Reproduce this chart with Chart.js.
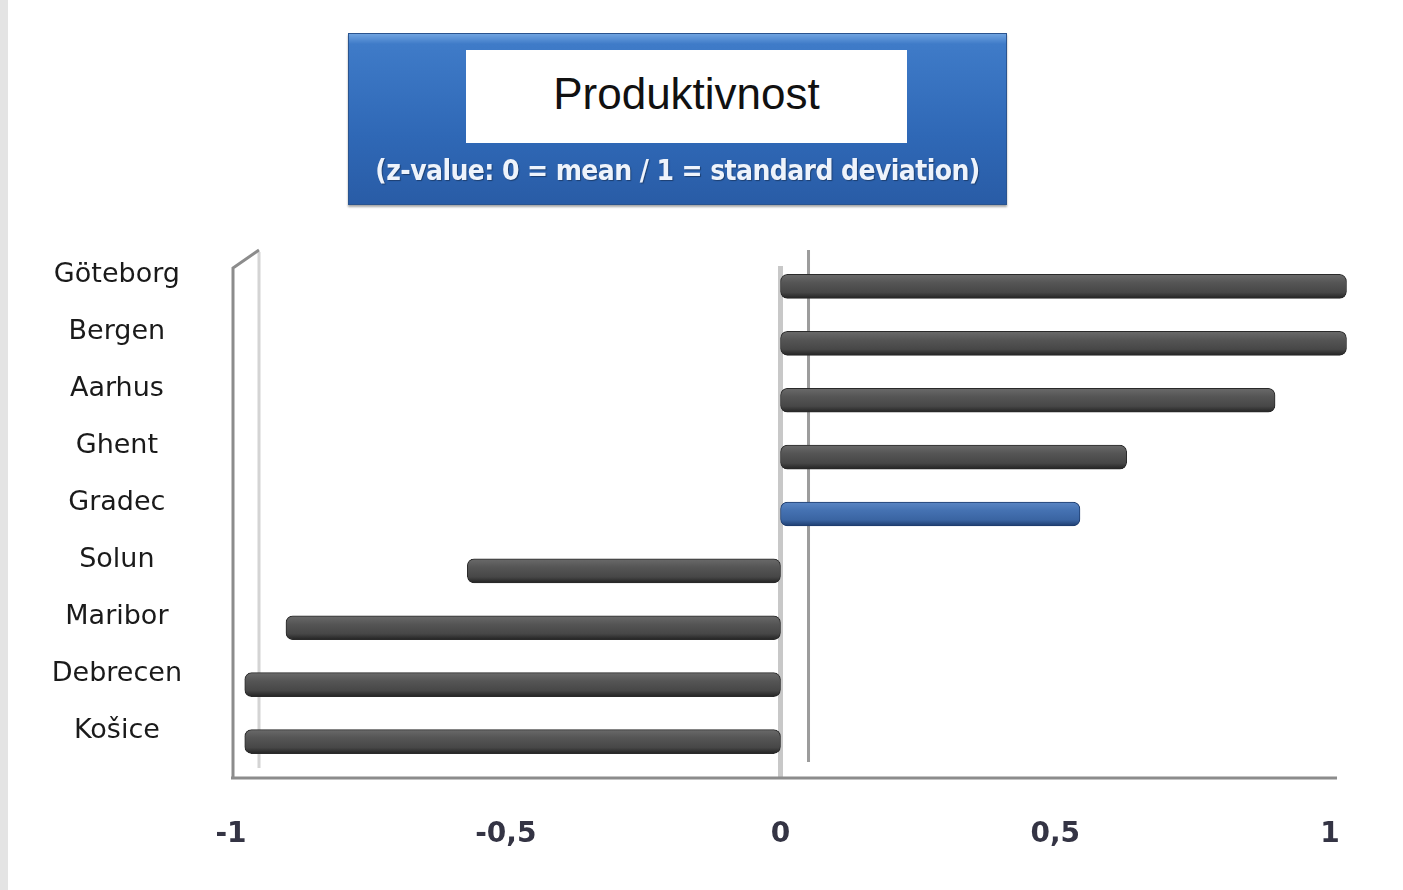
<!DOCTYPE html>
<html>
<head>
<meta charset="utf-8">
<script src="https://cdn.jsdelivr.net/npm/chart.js@4.4.1/dist/chart.umd.min.js"></script>
<style>
    html, body { margin: 0; padding: 0; background: #fff; }
    #wrap { position: relative; width: 1403px; height: 890px; overflow: hidden; background: #fff; }
    #edge { position: absolute; left: 0; top: 0; width: 8px; height: 890px; background: #e4e4e4; }
    #chart { position: absolute; left: 0; top: 0; }
    #titleBox {
        position: absolute; left: 348px; top: 33px; width: 657px; height: 170px;
        background: linear-gradient(#6fa3e0 0px, #3f7bc8 10px, #2f68b6 60%, #295ca6 100%);
        border: 1px solid #2a548f;
        box-shadow: 0 2px 2px rgba(0,0,0,0.35);
    }
    #titleInner {
        position: absolute; left: 117px; top: 16px; width: 441px; height: 93px;
        background: #fff;
        font: 44px "Liberation Sans", Arial, sans-serif; color: #111;
        display: flex; align-items: center; justify-content: center;
        padding-bottom: 6px; box-sizing: border-box;
    }
    #subTitle {
        position: absolute; left: 0; top: 120px; width: 657px; text-align: center;
        font: bold 28px "DejaVu Sans Condensed", "DejaVu Sans", sans-serif;
        color: #eef3fb; text-shadow: 1px 1px 1px #1d3f70;
        letter-spacing: -0.6px;
    }
</style>
</head>
<body>
<div id="wrap">
    <div id="edge"></div>
    <canvas id="chart" width="1403" height="890"></canvas>
    <div id="titleBox">
        <div id="titleInner">Produktivnost</div>
        <div id="subTitle">(z-value: 0 = mean / 1 = standard deviation)</div>
    </div>
</div>
<script>
// Data
const CITIES = ['Göteborg', 'Bergen', 'Aarhus', 'Ghent', 'Gradec', 'Solun', 'Maribor', 'Debrecen', 'Košice'];
const Z_VALUES = [1.03, 1.03, 0.90, 0.63, 0.545, -0.57, -0.90, -0.975, -0.975];
const X_TICKS = [-1, -0.5, 0, 0.5, 1];
const HIGHLIGHT = 'Gradec';

const GREY_STOPS = ['#6a6a6a', '#555555', '#474747', '#232323'];
const BLUE_STOPS = ['#5b86c4', '#4572b2', '#3a64a2', '#1d3c6e'];
const BAR_THICKNESS = 24;

// cylinder-ish shading for each bar
function barFill(c) {
    const chart = c.chart;
    const stops = CITIES[c.dataIndex] === HIGHLIGHT ? BLUE_STOPS : GREY_STOPS;
    if (!chart.chartArea || !chart.scales.y) return stops[2];
    const yc = chart.scales.y.getPixelForValue(c.dataIndex);
    const g = chart.ctx.createLinearGradient(0, yc - BAR_THICKNESS / 2, 0, yc + BAR_THICKNESS / 2);
    g.addColorStop(0, stops[0]);
    g.addColorStop(0.35, stops[1]);
    g.addColorStop(0.75, stops[2]);
    g.addColorStop(1, stops[3]);
    return g;
}

// back walls of the old 3D chart: left wall, zero line, floor
const wallPlugin = {
    id: 'walls',
    beforeDatasetsDraw(chart) {
        const { ctx, chartArea, scales } = chart;
        const depth = 28;
        const xl = scales.x.getPixelForValue(-1);
        const x0 = scales.x.getPixelForValue(0);
        const x1 = scales.x.getPixelForValue(1);
        const top = chartArea.top;
        const floor = chartArea.bottom + 8;
        ctx.save();
        ctx.lineCap = 'butt';
        // left wall
        ctx.strokeStyle = '#d4d4d4';
        ctx.lineWidth = 3;
        ctx.beginPath();
        ctx.moveTo(xl + depth, top - 6);
        ctx.lineTo(xl + depth, floor - 10);
        ctx.stroke();
        ctx.strokeStyle = '#8c8c8c';
        ctx.lineWidth = 3;
        ctx.beginPath();
        ctx.moveTo(xl + depth, top - 8);
        ctx.lineTo(xl + 2, top + 10);
        ctx.lineTo(xl + 2, floor);
        ctx.stroke();
        // zero line (front + back)
        ctx.strokeStyle = '#c8c8c8';
        ctx.lineWidth = 5;
        ctx.beginPath();
        ctx.moveTo(x0, top + 8);
        ctx.lineTo(x0, floor);
        ctx.stroke();
        ctx.strokeStyle = '#9c9c9c';
        ctx.lineWidth = 3;
        ctx.beginPath();
        ctx.moveTo(x0 + depth, top - 8);
        ctx.lineTo(x0 + depth, floor - 16);
        ctx.stroke();
        // floor / axis line
        ctx.strokeStyle = '#8c8c8c';
        ctx.lineWidth = 3;
        ctx.beginPath();
        ctx.moveTo(xl, floor);
        ctx.lineTo(x1 + 7, floor);
        ctx.stroke();
        ctx.restore();
    }
};

const ctx = document.getElementById('chart').getContext('2d');
new Chart(ctx, {
    type: 'bar',
    data: {
        labels: CITIES,
        datasets: [{
            data: Z_VALUES,
            backgroundColor: barFill,
            borderColor: CITIES.map(c => c === HIGHLIGHT ? '#1d3c6e' : '#2a2a2a'),
            borderWidth: 1,
            borderSkipped: false,
            borderRadius: 7,
            barThickness: BAR_THICKNESS
        }]
    },
    options: {
        indexAxis: 'y',
        responsive: false,
        animation: false,
        layout: {
            padding: { top: 258, right: 51, bottom: 0, left: 0 }
        },
        plugins: {
            legend: { display: false },
            tooltip: { enabled: false }
        },
        scales: {
            x: {
                min: -1,
                max: 1.04,
                afterBuildTicks(axis) {
                    axis.ticks = X_TICKS.map(v => ({ value: v }));
                },
                afterFit(scale) {
                    scale.height = 120;
                },
                grid: { display: false },
                border: { display: false },
                ticks: {
                    padding: 40,
                    color: '#343444',
                    font: { family: 'DejaVu Sans', size: 28, weight: 'bold' },
                    callback: v => String(v).replace('.', ',')
                }
            },
            y: {
                afterFit(scale) {
                    scale.width = 231;
                },
                grid: { display: false },
                border: { display: false },
                ticks: {
                    crossAlign: 'center',
                    padding: 41,
                    labelOffset: -11,
                    color: '#1a1a1a',
                    font: { family: 'DejaVu Sans', size: 27 }
                }
            }
        }
    },
    plugins: [wallPlugin]
});
</script>
</body>
</html>
